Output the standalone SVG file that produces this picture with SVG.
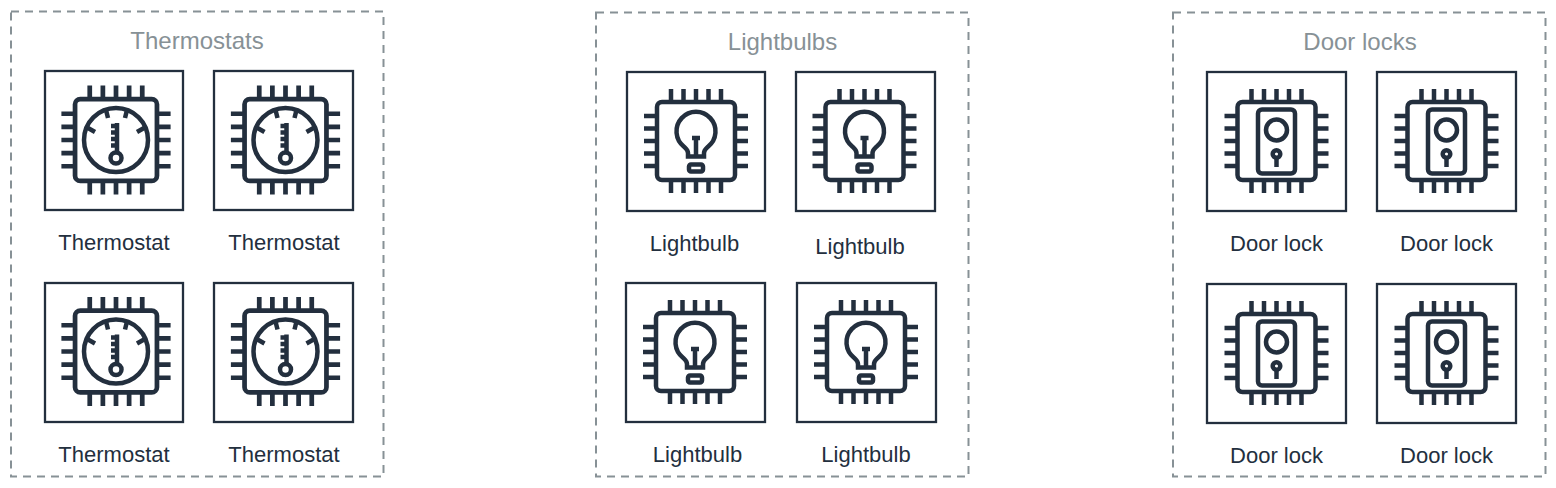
<svg xmlns="http://www.w3.org/2000/svg" width="1556" height="488" viewBox="0 0 1556 488">
<style>
.frame{fill:none;stroke:#879196;stroke-width:2;stroke-dasharray:8 6}
.box{fill:#fff;stroke:#232f3e;stroke-width:2.300}
.ic{fill:none;stroke:#232f3e;stroke-width:4.500}
.title{font:24px "Liberation Sans",Arial,sans-serif;fill:#879196;text-anchor:middle}
.lbl{font:22px "Liberation Sans",Arial,sans-serif;fill:#232f3e;text-anchor:middle}
</style>
<defs>
<g id="chip" class="ic">
<rect x="-39" y="-39" width="78" height="78" rx="5"/>
<path d="M-25-52V-40M-12.500-52V-40M0-52V-40M12.500-52V-40M25-52V-40M-25 40V52M-12.500 40V52M0 40V52M12.500 40V52M25 40V52M-52-25H-40M-52-12.500H-40M-52 0H-40M-52 12.500H-40M-52 25H-40M40-25H52M40-12.500H52M40 0H52M40 12.500H52M40 25H52"/>
</g>
<g id="thermo">
<use href="#chip" transform="scale(1.05)"/>
<g class="ic">
<circle r="32"/>
<path d="M-10-30L-8-22M11-30L9-22M-28-12L-21-8M28-12L21-8"/>
<circle cy="18" r="5.500"/>
<path d="M1-17V13M-5-14H1M-5-7.500H1M-5-1H1M-5 5.500H1"/>
</g>
</g>
<g id="bulb">
<use href="#chip"/>
<g class="ic">
<path d="M-8 15.500V12C-8 9-10 7.500-12 5.700A19.500 19.500 0 1 1 12 5.700C10 7.500 8 9 8 12V15.500Z"/>
<path d="M-4-3H4M0-3V15"/>
<rect x="-7" y="23.500" width="14" height="7" rx="2"/>
</g>
</g>
<g id="lock">
<use href="#chip"/>
<g class="ic">
<rect x="-18.500" y="-31.500" width="37" height="64" rx="4"/>
<circle cy="-11" r="10.500"/>
<circle cy="13" r="3.800"/>
<path d="M0 17V26"/>
</g>
</g>
</defs>

<g id="connectors"/>

<g id="group-thermostats">
<rect class="frame" x="11" y="11.500" width="372.500" height="465"/>
<text class="title" x="197" y="49">Thermostats</text>
</g>
<g id="thermostat-1"><rect class="box" x="45" y="71" width="138" height="139"/><use href="#thermo" x="116" y="140"/><text class="lbl" x="114" y="250">Thermostat</text></g>
<g id="thermostat-2"><rect class="box" x="214" y="71" width="139" height="139"/><use href="#thermo" x="285.500" y="140"/><text class="lbl" x="284" y="250">Thermostat</text></g>
<g id="thermostat-3"><rect class="box" x="45" y="283" width="138" height="139"/><use href="#thermo" x="116" y="351.500"/><text class="lbl" x="114" y="462">Thermostat</text></g>
<g id="thermostat-4"><rect class="box" x="214" y="283" width="139" height="139"/><use href="#thermo" x="285.500" y="351.500"/><text class="lbl" x="284" y="462">Thermostat</text></g>

<g id="group-lightbulbs">
<rect class="frame" x="596" y="12.500" width="372.500" height="464"/>
<text class="title" x="782.500" y="50">Lightbulbs</text>
</g>
<g id="lightbulb-1"><rect class="box" x="627" y="72" width="138" height="139"/><use href="#bulb" x="696" y="141"/><text class="lbl" x="694.500" y="251">Lightbulb</text></g>
<g id="lightbulb-2"><rect class="box" x="796" y="72" width="139" height="139"/><use href="#bulb" x="864.500" y="141"/><text class="lbl" x="860" y="253.500">Lightbulb</text></g>
<g id="lightbulb-3"><rect class="box" x="626" y="283" width="139" height="139"/><use href="#bulb" x="695" y="352"/><text class="lbl" x="697.500" y="462">Lightbulb</text></g>
<g id="lightbulb-4"><rect class="box" x="797" y="283" width="139" height="139"/><use href="#bulb" x="866" y="352"/><text class="lbl" x="866" y="462">Lightbulb</text></g>

<g id="group-door-locks">
<rect class="frame" x="1173" y="12.500" width="372.500" height="464"/>
<text class="title" x="1360" y="50">Door locks</text>
</g>
<g id="door-lock-1"><rect class="box" x="1207" y="72" width="139" height="139"/><use href="#lock" x="1276.500" y="141"/><text class="lbl" x="1276.500" y="251">Door lock</text></g>
<g id="door-lock-2"><rect class="box" x="1377" y="72" width="139" height="139"/><use href="#lock" x="1446.500" y="141"/><text class="lbl" x="1446.500" y="251">Door lock</text></g>
<g id="door-lock-3"><rect class="box" x="1207" y="284" width="139" height="139"/><use href="#lock" x="1276.500" y="353"/><text class="lbl" x="1276.500" y="463">Door lock</text></g>
<g id="door-lock-4"><rect class="box" x="1377" y="284" width="139" height="139"/><use href="#lock" x="1446.500" y="353"/><text class="lbl" x="1446.500" y="463">Door lock</text></g>
</svg>
